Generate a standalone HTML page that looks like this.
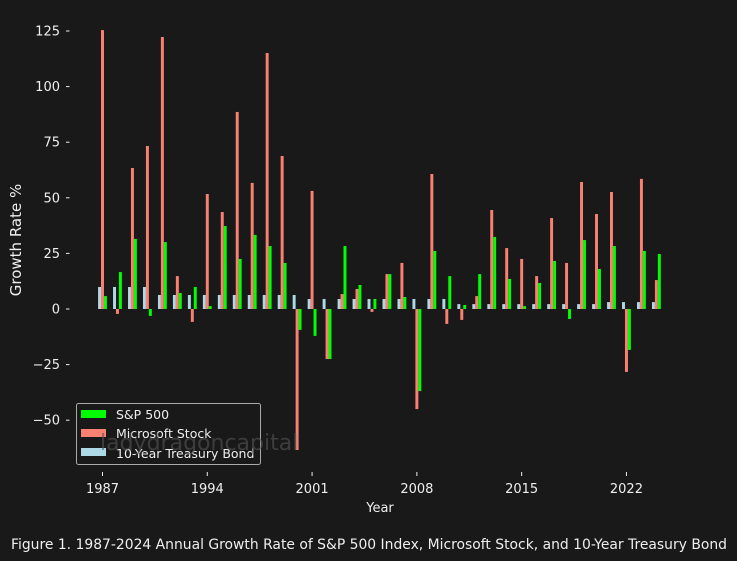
<!DOCTYPE html>
<html><head><meta charset="utf-8">
<style>
html,body{margin:0;padding:0;background:#191919;}
svg{display:block;font-family:"DejaVu Sans","Liberation Sans",sans-serif;}
</style></head>
<body>
<svg id="chart" width="737" height="561" viewBox="0 0 737 561">
<rect width="737" height="561" fill="#191919"/>
<g id="bars"></g>
<g id="axes"></g>
<g>
<rect x="76.5" y="403.5" width="184" height="61" rx="2" fill="#191919" fill-opacity="0.8" stroke="#aaa" stroke-width="1"/>
<g><rect x="81" y="410" width="25" height="8" fill="#00ff00"/><text x="116" y="419" font-size="12.5" fill="#eee">S&amp;P 500</text></g>
<g><rect x="81" y="429" width="25" height="8" fill="#fa8072"/><text x="116" y="438" font-size="12.5" fill="#eee">Microsoft Stock</text></g>
<g><rect x="81" y="448" width="25" height="8" fill="#add8e6"/><text x="116" y="458" font-size="12.5" fill="#eee">10-Year Treasury Bond</text></g>
</g>
<text x="100" y="450" font-size="22" fill="#555" fill-opacity="0.6">ladydragoncapital</text>
<text x="380" y="512" font-size="13" fill="#eee" text-anchor="middle">Year</text>
<text transform="translate(21,240) rotate(-90)" font-size="15" fill="#eee" text-anchor="middle">Growth Rate %</text>
<text x="11" y="549" font-size="14" fill="#eee" textLength="716" lengthAdjust="spacingAndGlyphs">Figure 1. 1987-2024 Annual Growth Rate of S&amp;P 500 Index, Microsoft Stock, and 10-Year Treasury Bond</text>
</svg>
<script>
const years = [1987,1988,1989,1990,1991,1992,1993,1994,1995,1996,1997,1998,1999,2000,2001,2002,2003,2004,2005,2006,2007,2008,2009,2010,2011,2012,2013,2014,2015,2016,2017,2018,2019,2020,2021,2022,2023,2024];
const sp500 = [5.8,16.6,31.5,-3.1,30.1,7.2,9.9,1.3,37.3,22.5,33.3,28.3,20.7,-9.4,-12.1,-22.5,28.3,10.8,4.5,15.7,5.4,-36.9,26.1,14.8,1.8,15.7,32.4,13.5,1.3,11.7,21.6,-4.5,31,18,28.3,-18.4,26.1,24.7];
const msft = [125.4,-2.2,63.4,73.3,122.3,14.8,-5.8,51.7,43.6,88.6,56.7,115.1,68.8,-63.4,53.1,-22.5,6.7,9,-1.3,15.7,20.7,-45,60.7,-6.7,-4.9,5.8,44.5,27.4,22.5,14.8,40.9,20.7,57.1,42.7,52.6,-28.3,58.5,13];
const treasury = [9.9,9.9,9.9,9.9,6.3,6.3,6.3,6.3,6.3,6.3,6.3,6.3,6.3,6.3,4.5,4.5,4.5,4.5,4.5,4.5,4.5,4.5,4.5,4.5,2.2,2.2,2.2,2.2,2.2,2.2,2.2,2.2,2.2,2.2,3.1,3.1,3.1,3.1];
const yTicks = [-50,-25,0,25,50,75,100,125];
const xTicks = [1987,1994,2001,2008,2015,2022];

const NS = "http://www.w3.org/2000/svg";
const x = yr => 102.5 + (yr - 1987) * 14.97;
const y = v => 309 - v * 2.224;
const bw = 2.95;
const bars = document.getElementById('bars');
const axes = document.getElementById('axes');

function bar(cx, v, color, name) {
  const r = document.createElementNS(NS, 'rect');
  r.setAttribute('x', cx - bw / 2);
  r.setAttribute('y', Math.min(y(v), y(0)));
  r.setAttribute('width', bw);
  r.setAttribute('height', Math.abs(y(v) - y(0)));
  r.setAttribute('fill', color);
  
  
  bars.appendChild(r);
}
years.forEach((yr, i) => {
  bar(x(yr) - bw, treasury[i], '#add8e6', 'bar-treasury-' + yr);
  bar(x(yr), msft[i], '#fa8072', 'bar-microsoft-' + yr);
  bar(x(yr) + bw, sp500[i], '#00ff00', 'bar-sp500-' + yr);
});
yTicks.forEach(v => {
  const l = document.createElementNS(NS, 'line');
  l.setAttribute('x1', 66); l.setAttribute('x2', 69.5);
  l.setAttribute('y1', y(v)); l.setAttribute('y2', y(v));
  l.setAttribute('stroke', '#eee');
  
  
  axes.appendChild(l);
  const t = document.createElementNS(NS, 'text');
  t.setAttribute('x', 60); t.setAttribute('y', y(v) + 4.5);
  t.setAttribute('font-size', '13'); t.setAttribute('fill', '#eee');
  t.setAttribute('text-anchor', 'end');
  t.textContent = v < 0 ? '\u2212' + Math.abs(v) : String(v);
  
  
  axes.appendChild(t);
});
xTicks.forEach(v => {
  const l = document.createElementNS(NS, 'line');
  l.setAttribute('x1', x(v)); l.setAttribute('x2', x(v));
  l.setAttribute('y1', 472); l.setAttribute('y2', 476);
  l.setAttribute('stroke', '#eee');
  
  
  axes.appendChild(l);
  const t = document.createElementNS(NS, 'text');
  t.setAttribute('x', x(v)); t.setAttribute('y', 493);
  t.setAttribute('font-size', '13'); t.setAttribute('fill', '#eee');
  t.setAttribute('text-anchor', 'middle');
  t.textContent = String(v);
  
  
  axes.appendChild(t);
});
</script>
</body></html>
